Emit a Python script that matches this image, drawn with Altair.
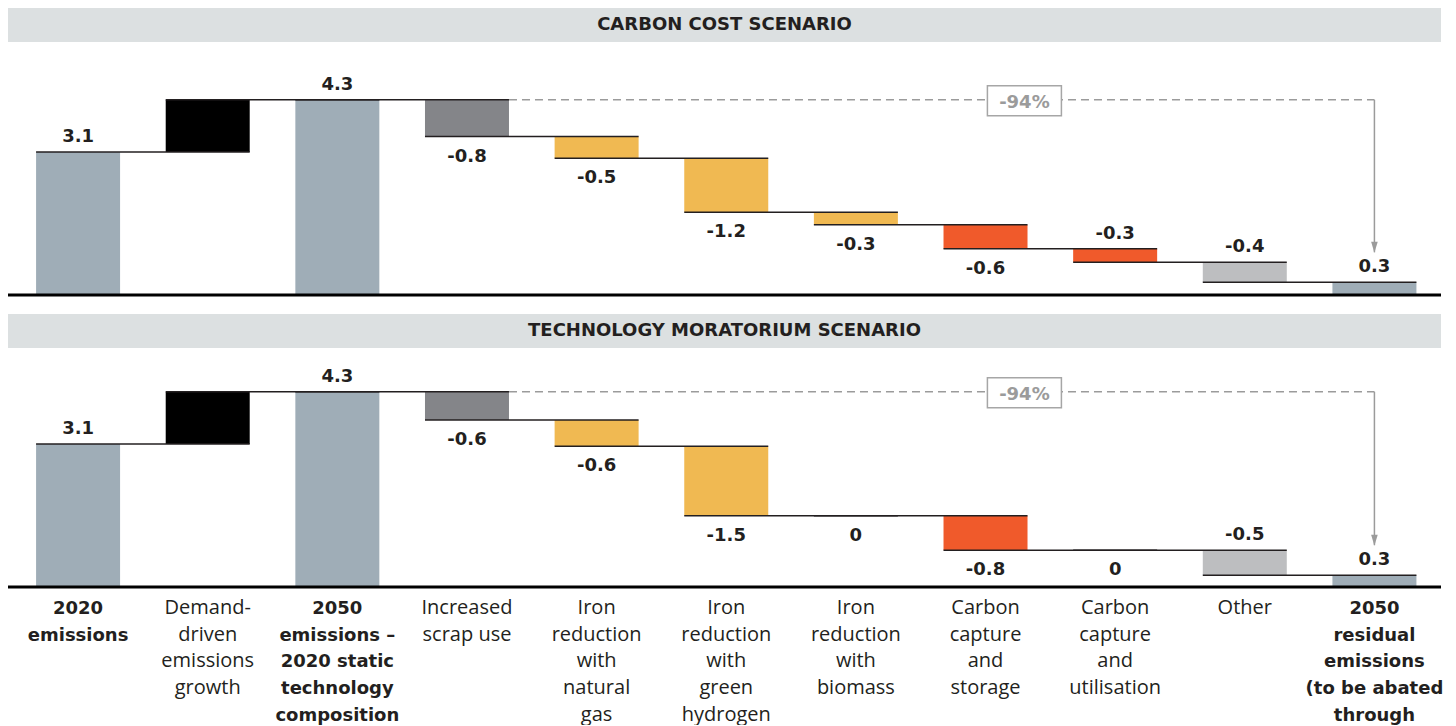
import altair as alt
import pandas as pd

# ---------------- data ----------------
categories = [
    "2020\nemissions",
    "Demand-\ndriven\nemissions\ngrowth",
    "2050\nemissions –\n2020 static\ntechnology\ncomposition",
    "Increased\nscrap use",
    "Iron\nreduction\nwith\nnatural\ngas",
    "Iron\nreduction\nwith\ngreen\nhydrogen",
    "Iron\nreduction\nwith\nbiomass",
    "Carbon\ncapture\nand\nstorage",
    "Carbon\ncapture\nand\nutilisation",
    "Other",
    "2050\nresidual\nemissions\n(to be abated\nthrough",
]
bar_kinds = ["total", "delta", "total", "delta", "delta", "delta",
             "delta", "delta", "delta", "delta", "total"]

carbon_cost_title = "CARBON COST SCENARIO"
carbon_cost_values = [3.15, 1.15, 4.30, -0.81, -0.48, -1.19, -0.27, -0.53, -0.30, -0.44, 0.28]
carbon_cost_labels = ["3.1", "", "4.3", "-0.8", "-0.5", "-1.2", "-0.3", "-0.6", "-0.3", "-0.4", "0.3"]
carbon_cost_label_side = ["above", "above", "above", "below", "below", "below",
                          "below", "below", "above", "above", "above"]

moratorium_title = "TECHNOLOGY MORATORIUM SCENARIO"
moratorium_values = [3.15, 1.15, 4.30, -0.62, -0.58, -1.53, 0.0, -0.76, 0.0, -0.55, 0.26]
moratorium_labels = ["3.1", "", "4.3", "-0.6", "-0.6", "-1.5", "0", "-0.8", "0", "-0.5", "0.3"]
moratorium_label_side = ["above", "above", "above", "below", "below", "below",
                         "below", "below", "below", "above", "above"]

reduction_label = "-94%"
reduction_label_pos = 7.3   # position along the category axis

# ---------------- style ----------------
bar_colors = ["#9FADB7", "#000000", "#9FADB7", "#848589", "#F0B952", "#F0B952",
              "#F0B952", "#F05A2B", "#F05A2B", "#BDBEC0", "#9FADB7"]
BOLD_FONT = "DejaVu Sans"
REG_FONT = "Open Sans"
TEXT_COLOR = "#231F20"
GREY = "#9B9B9B"
W = 1433
BAR_W = 84
PX_PER_UNIT = 45.4
X_DOMAIN = [-0.502, 10.475]


def build(values, labels, sides):
    rows = []
    level = 0.0
    n = len(categories)
    for i in range(n):
        v = values[i]
        if bar_kinds[i] == "total":
            start, end = 0.0, v
        else:
            start, end = level, level + v
        level = end
        rows.append(dict(idx=i, nxt=i + 1, cat=categories[i], kind=bar_kinds[i],
                         start=start, end=end, top=max(start, end), bottom=min(start, end),
                         label=labels[i], side=sides[i], color=bar_colors[i]))
    return pd.DataFrame(rows)


def panel(df, title, height, show_categories):
    xs = alt.Scale(domain=X_DOMAIN, nice=False, zero=False)
    ys = alt.Scale(domain=[0, height / PX_PER_UNIT], nice=False, zero=True)
    X = alt.X("idx:Q", scale=xs, axis=None)
    base = alt.Chart(df)

    head_df = pd.DataFrame({"title": [title]})
    band = alt.Chart(head_df).mark_rect(color="#DCE0E1").encode(
        x=alt.value(0), x2=alt.value(W), y=alt.value(0), y2=alt.value(34))
    head = alt.Chart(head_df).mark_text(font=BOLD_FONT, fontSize=18, fontWeight="bold",
                                        color=TEXT_COLOR, baseline="middle").encode(
        x=alt.value(W / 2), y=alt.value(17), text="title:N")

    bars = base.mark_bar(size=BAR_W).encode(
        x=X, y=alt.Y("start:Q", scale=ys, axis=None), y2="end:Q",
        color=alt.Color("color:N", scale=None))

    connectors = base.transform_filter(f"datum.idx < {len(categories) - 1}").mark_rule(
        xOffset=-BAR_W / 2, x2Offset=BAR_W / 2, color="#231F20", strokeWidth=1.5).encode(
        x=X, x2="nxt:Q", y=alt.Y("end:Q", scale=ys, axis=None))

    baseline = alt.Chart(head_df).mark_rect(color="#000000").encode(
        x=alt.value(0), x2=alt.value(W), y=alt.value(height - 1.5), y2=alt.value(height + 1.5))

    above = base.transform_filter("datum.side == 'above' && datum.label != ''").mark_text(
        font=BOLD_FONT, fontSize=18, fontWeight="bold", color=TEXT_COLOR,
        baseline="alphabetic", dy=-10).encode(
        x=X, y=alt.Y("top:Q", scale=ys, axis=None), text="label:N")
    below = base.transform_filter("datum.side == 'below' && datum.label != ''").mark_text(
        font=BOLD_FONT, fontSize=18, fontWeight="bold", color=TEXT_COLOR,
        baseline="alphabetic", dy=25).encode(
        x=X, y=alt.Y("bottom:Q", scale=ys, axis=None), text="label:N")

    total_2050 = float(df.loc[2, "end"])
    final = float(df.loc[len(df) - 1, "end"])
    ann_df = pd.DataFrame({"from": [3], "to": [len(categories) - 1], "level": [total_2050],
                           "final": [final], "ax": [reduction_label_pos], "text": [reduction_label]})
    ann = alt.Chart(ann_df)
    dashed = ann.mark_rule(xOffset=BAR_W / 2, strokeDash=[8, 5], color=GREY, strokeWidth=1.5).encode(
        x=alt.X("from:Q", scale=xs, axis=None), x2="to:Q", y=alt.Y("level:Q", scale=ys, axis=None))
    vertical = ann.mark_rule(y2Offset=-30, color=GREY, strokeWidth=1.5).encode(
        x=alt.X("to:Q", scale=xs, axis=None), y=alt.Y("level:Q", scale=ys, axis=None), y2="final:Q")
    head_arrow = ann.mark_point(shape="M-0.6,-1L0.6,-1L0,1Z", size=121, filled=True,
                                color=GREY, opacity=1, yOffset=-35).encode(
        x=alt.X("to:Q", scale=xs, axis=None), y=alt.Y("final:Q", scale=ys, axis=None))
    box = ann.mark_rect(xOffset=-37, x2Offset=37, yOffset=-14, y2Offset=16,
                        fill="white", stroke="#A6A6A6", strokeWidth=1.5).encode(
        x=alt.X("ax:Q", scale=xs, axis=None), x2="ax:Q",
        y=alt.Y("level:Q", scale=ys, axis=None), y2="level:Q")
    box_text = ann.mark_text(font=BOLD_FONT, fontSize=18, fontWeight="bold", color=GREY,
                             baseline="alphabetic", dy=8).encode(
        x=alt.X("ax:Q", scale=xs, axis=None), y=alt.Y("level:Q", scale=ys, axis=None), text="text:N")

    layers = [band, head, bars, connectors, baseline, dashed, vertical, head_arrow,
              box, box_text, above, below]

    if show_categories:
        for kind, font, size, weight in (("total", BOLD_FONT, 18, "bold"),
                                         ("delta", REG_FONT, 20, "normal")):
            layers.append(base.transform_filter(f"datum.kind == '{kind}'").mark_text(
                font=font, fontSize=size, fontWeight=weight, color=TEXT_COLOR,
                baseline="alphabetic", lineBreak="\n", lineHeight=26.7, align="center").encode(
                x=X, y=alt.value(height + 27), text="cat:N"))

    return alt.layer(*layers).properties(width=W, height=height)


top = panel(build(carbon_cost_values, carbon_cost_labels, carbon_cost_label_side),
            carbon_cost_title, 287, False)
bottom = panel(build(moratorium_values, moratorium_labels, moratorium_label_side),
               moratorium_title, 273, True)

chart = alt.vconcat(top, bottom, spacing=17).properties(padding=0).configure_view(stroke=None)
chart.save("out.html", embed_options={"renderer": "svg", "actions": False})
